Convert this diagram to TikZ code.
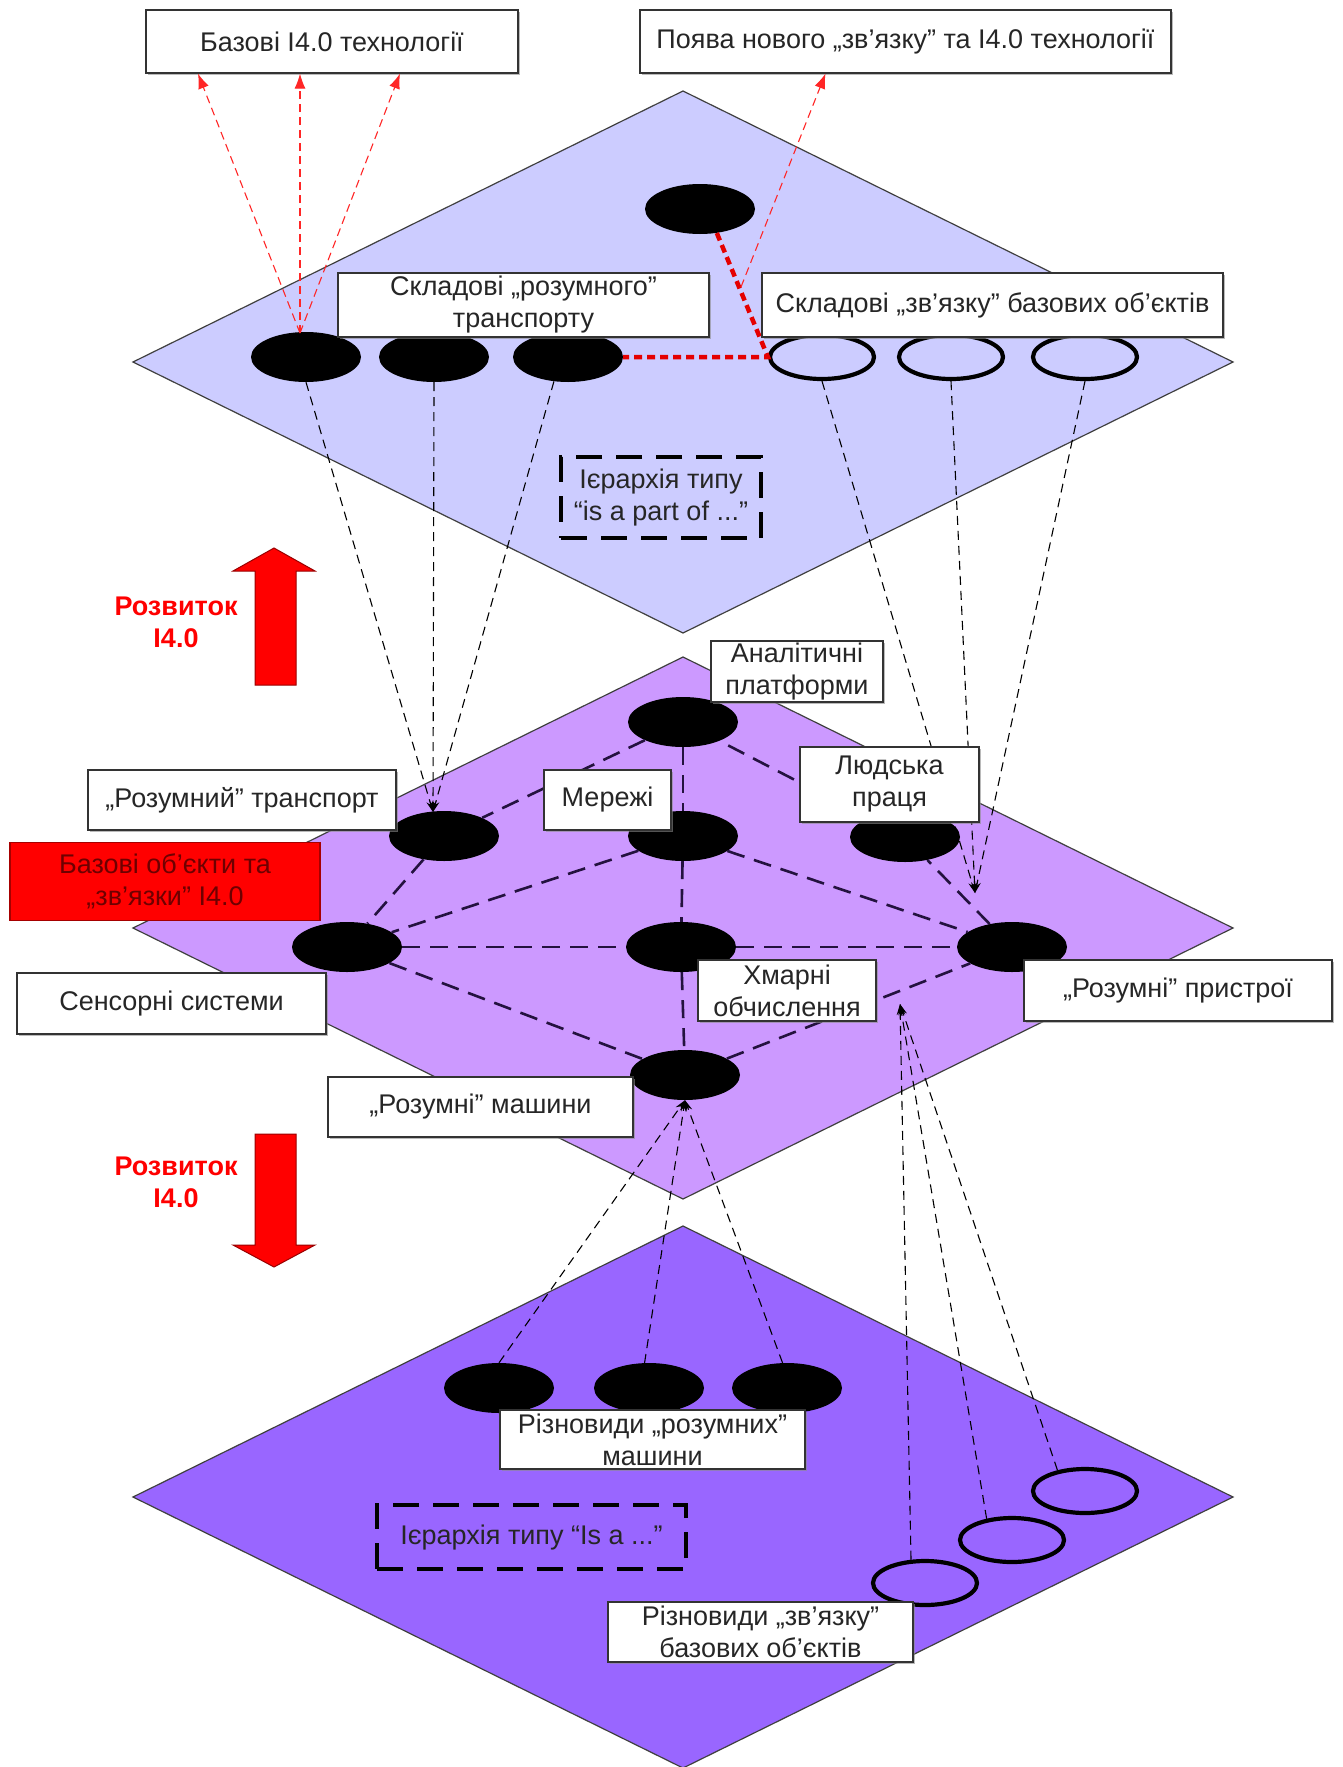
\documentclass[tikz,border=0pt]{standalone}
\usepackage{fontspec}
\setmainfont{Liberation Sans}
\usetikzlibrary{calc,arrows.meta,shapes.geometric,shadows}

\definecolor{topplane}{HTML}{CCCCFF}
\definecolor{midplane}{HTML}{CC99FF}
\definecolor{lowplane}{HTML}{9966FF}
\definecolor{inkgray}{HTML}{262626}
\definecolor{linkdark}{HTML}{24123F}
\definecolor{redtext}{HTML}{6E0000}

\newcommand{\labelfont}{\fontsize{27}{32}\selectfont}

\tikzset{
  plane/.style={draw=black!75, line width=1.2},
  blob/.style={ellipse, fill=black, minimum width=110, minimum height=50, inner sep=0},
  ring/.style={ellipse, draw=black, line width=4.2, minimum width=104, minimum height=44, inner sep=0},
  lbl/.style={rectangle, draw=black!80, line width=1.2, fill=white, text=inkgray,
    align=center, inner sep=2, font=\labelfont,
    drop shadow={shadow xshift=2pt, shadow yshift=-2pt, fill=black!45, opacity=0.6}},
  redlbl/.style={rectangle, draw=red!65!black, line width=1.2, fill=red, text=redtext,
    align=center, inner sep=2, font=\labelfont},
  hier/.style={rectangle, draw=black, line width=4, dash pattern=on 26 off 14,
    text=inkgray, align=center, inner sep=2, font=\labelfont},
  devtext/.style={text=red, align=center, font=\labelfont\bfseries},
  blockarrow/.style={fill=red, draw=red!60!black, line width=1},
  redlink/.style={draw=red!85!white, line width=1.1, dash pattern=on 8 off 5, -{Latex[length=15,width=11]}},
  reddots/.style={draw=red!90!black, line width=4.5, dash pattern=on 8 off 5},
  link/.style={draw=black, line width=1.1, dash pattern=on 9 off 6, -{Stealth[length=11,width=7]}},
  web/.style={draw=linkdark, line width=2.6, dash pattern=on 18 off 10},
}

\begin{document}
\begin{tikzpicture}[x=1pt, y=-1pt]
\useasboundingbox (0,0) rectangle (1343,1767);
\fill[white] (0,0) rectangle (1343,1767);

% three layers
\draw[plane, fill=topplane] (683,91) -- (1233,362) -- (683,633) -- (133,362) -- cycle;
\draw[plane, fill=midplane] (683,657) -- (1233,928) -- (683,1199) -- (133,928) -- cycle;
\draw[plane, fill=lowplane] (683,1226) -- (1233,1497) -- (683,1768) -- (133,1497) -- cycle;

% headline boxes
\node[lbl, minimum width=372, minimum height=63] (box1) at (332,41.5) {Базові I4.0 технології};
\node[lbl, minimum width=531, minimum height=63] (box2) at (905.5,41.5) {Поява нового „зв'язку” та I4.0 технології};

% upper layer objects
\node[blob] (T1) at (306,357) {};
\node[blob] (T2) at (434,357) {};
\node[blob] (T3) at (568,357) {};
\node[blob] (Ttop) at (700,209) {};
\node[ring] (O1) at (822,357) {};
\node[ring] (O2) at (951,357) {};
\node[ring] (O3) at (1085,357) {};

% middle layer objects
\node[blob] (A)  at (683,722) {};
\node[blob] (Tr) at (444,836) {};
\node[blob] (N)  at (683,836) {};
\node[blob] (H)  at (905,837) {};
\node[blob] (S)  at (347,947) {};
\node[blob] (C)  at (681,947) {};
\node[blob] (D)  at (1012,947) {};
\node[blob] (M)  at (685,1075) {};

% lower layer objects
\node[blob] (B1) at (499,1388) {};
\node[blob] (B2) at (649,1388) {};
\node[blob] (B3) at (787,1388) {};
\node[ring] (BO1) at (925,1583) {};
\node[ring] (BO2) at (1012,1540) {};
\node[ring] (BO3) at (1085,1491) {};

% convergence points
\coordinate (cT)  at (300,333);
\coordinate (cL)  at (741,287);
\coordinate (cTr) at (433,812);
\coordinate (cD)  at (975,893);
\coordinate (cC)  at (900,1004);

% links in the middle layer
\draw[web] (A) -- (Tr);
\draw[web] (Tr) -- (S);
\draw[web] (S) -- (M);
\draw[web] (M) -- (D);
\draw[web] (D) -- (H);
\draw[web] (H) -- (A);
\draw[web] (N) -- (S);
\draw[web] (N) -- (D);
\draw[web] (S) -- (C);
\draw[web] (C) -- (D);
\draw[web] (A) -- (N);
\draw[web] (N) -- (C);
\draw[web] (C) -- (M);

% red links in the upper layer
\draw[reddots] (Ttop.-55) -- (O1.west) -- (T3.east);
\draw[redlink] (cT) -- ($(box1.south)+(-134,0)$);
\draw[redlink] (cT) -- ($(box1.south)+(-32,0)$);
\draw[redlink] (cT) -- ($(box1.south)+(68,0)$);
\draw[redlink] (cL) -- ($(box2.south)+(-80,0)$);

% links between layers
\draw[link] (T1.south) -- (cTr);
\draw[link] (T2.south) -- (cTr);
\draw[link] (T3.240) -- (cTr);
\draw[link] (O1.south) -- (cD);
\draw[link] (O2.south) -- (cD);
\draw[link] (O3.south) -- (cD);
\draw[link] (B1.north) -- (M.south);
\draw[link] (B2.100) -- (M.south);
\draw[link] (B3.100) -- (M.south);
\draw[link] (BO1.121) -- (cC);
\draw[link] (BO2.140) -- (cC);
\draw[link] (BO3.143) -- (cC);

% labels of the upper layer
\node[lbl, minimum width=371, minimum height=64] (boxTr) at (523.5,305) {Складові „розумного”\\транспорту};
\node[lbl, minimum width=461, minimum height=64] (boxLk) at (992.5,305) {Складові „зв'язку” базових об'єктів};
\node[hier, minimum width=200, minimum height=81] (hier1) at (661,497.5) {Ієрархія типу\\“is a part of ...”};

% labels of the middle layer
\node[lbl, minimum width=172, minimum height=59] (lblA) at (797,671.5) {Аналітичні\\платформи};
\node[lbl, minimum width=308, minimum height=60] (lblTr) at (242,800) {„Розумний” транспорт};
\node[lbl, minimum width=127, minimum height=60] (lblN) at (607.5,800) {Мережі};
\node[lbl, minimum width=179, minimum height=75] (lblH) at (889.5,784.5) {Людська\\праця};
\node[redlbl, minimum width=310, minimum height=78] (lblBase) at (165,881.5) {Базові об'єкти та\\„зв'язки” I4.0};
\node[lbl, minimum width=309, minimum height=61] (lblS) at (171.5,1003.5) {Сенсорні системи};
\node[lbl, minimum width=178, minimum height=61] (lblC) at (787,990.5) {Хмарні\\обчислення};
\node[lbl, minimum width=308, minimum height=61] (lblD) at (1178,990.5) {„Розумні” пристрої};
\node[lbl, minimum width=305, minimum height=60] (lblM) at (480.5,1107) {„Розумні” машини};

% labels of the lower layer
\node[lbl, minimum width=305, minimum height=59] (lblBV) at (652.5,1439.5) {Різновиди „розумних”\\машини};
\node[hier, minimum width=309, minimum height=64] (hier2) at (531.5,1537) {Ієрархія типу “Is a ...”};
\node[lbl, minimum width=305, minimum height=60] (lblBL) at (760.5,1632) {Різновиди „зв'язку”\\базових об'єктів};

% development arrows
\draw[blockarrow] (255,685) -- (255,571) -- (233,571) -- (274,548) -- (315,571) -- (296,571) -- (296,685) -- cycle;
\node[devtext] (devUp) at (176,622) {Розвиток\\I4.0};
\draw[blockarrow] (255,1134) -- (255,1245) -- (233,1245) -- (274,1267) -- (315,1245) -- (296,1245) -- (296,1134) -- cycle;
\node[devtext] (devDown) at (176,1182) {Розвиток\\I4.0};
\end{tikzpicture}
\end{document}
